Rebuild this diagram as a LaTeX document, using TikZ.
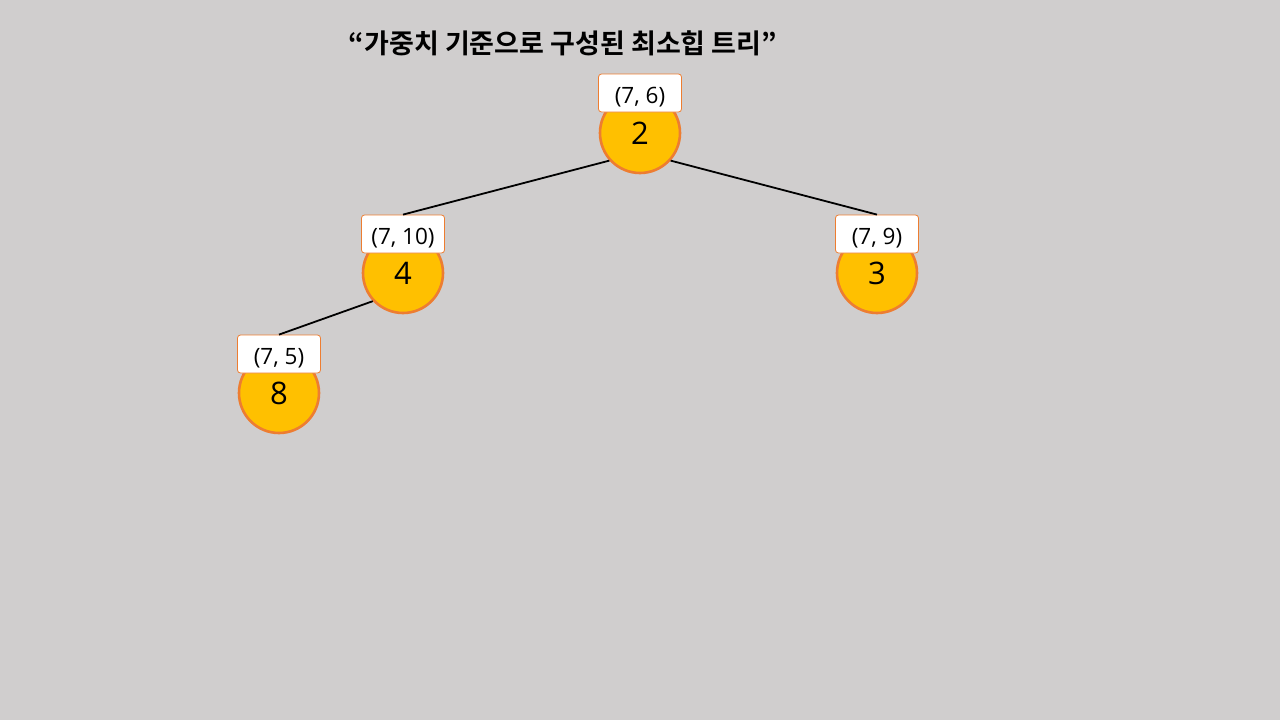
\documentclass[tikz,border=0pt]{standalone}
\usepackage{fontspec}
\setmainfont{Open Sans}
\newfontfamily\krfont{Noto Sans CJK KR}[BoldFont={* Bold}]
\definecolor{bgc}{HTML}{D0CECE}
\definecolor{fillc}{HTML}{FFC000}
\definecolor{edgec}{HTML}{ED7D31}
\begin{document}
\begin{tikzpicture}[x=1pt,y=-1pt,
  heapnode/.style={circle,draw=edgec,fill=fillc,line width=2.6pt,minimum size=80pt,inner sep=0pt,
    font=\fontsize{31}{36}\selectfont},
  keylabel/.style={rectangle,rounded corners=3pt,draw=edgec,fill=white,line width=0.8pt,
    minimum width=83pt,minimum height=38pt,inner sep=0pt,text height=20pt,text depth=0pt,
    font=\fontsize{22.5}{26}\selectfont},
  link/.style={draw=black,line width=1.8pt}]
\fill[bgc] (0,0) rectangle (1280,720);
\useasboundingbox (0,0) rectangle (1280,720);
\node[font=\krfont\bfseries\fontsize{27}{32}\selectfont] (title) at (563,43) {“가중치 기준으로 구성된 최소힙 트리”};
\node[heapnode] (c2) at (640,133) {2};
\node[heapnode] (c4) at (403,273) {4};
\node[heapnode] (c3) at (877,273) {3};
\node[heapnode] (c8) at (279,393) {8};
\node[keylabel] (l2) at (640,93) {(7, 6)};
\node[keylabel] (l4) at (403,234) {(7, 10)};
\node[keylabel] (l3) at (877,234) {(7, 9)};
\node[keylabel] (l8) at (279,354) {(7, 5)};
\draw[link] (c2.222) -- (l4.north);
\draw[link] (c2.318) -- (l3.north);
\draw[link] (c4.223) -- (l8.north);
\end{tikzpicture}
\end{document}
